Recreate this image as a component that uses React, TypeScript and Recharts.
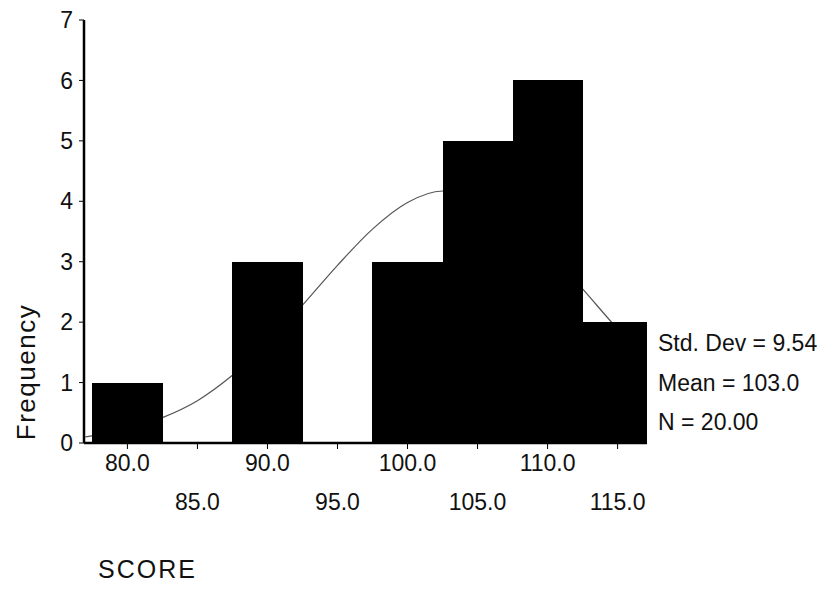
import React from 'react';
import { ComposedChart, Bar, Line, XAxis, YAxis } from 'recharts';

// histogram bins (midpoints) and counts
const binMids = [80, 85, 90, 95, 100, 105, 110, 115];
const binCounts = [1, 0, 3, 0, 3, 5, 6, 2];
const binWidth = 5;

// normal curve overlay
const curveX = [77, 80, 82.5, 85, 87.5, 90, 92.5, 95, 97.5, 100, 102.5, 105, 107.5, 110, 112.5, 115, 117];
const curveY = [0.1, 0.23, 0.42, 0.7, 1.12, 1.65, 2.28, 2.94, 3.54, 3.98, 4.17, 4.09, 3.74, 3.19, 2.55, 1.89, 1.42];

const xTicks = [80, 85, 90, 95, 100, 105, 110, 115];
const xTickLabels = ['80.0', '85.0', '90.0', '95.0', '100.0', '105.0', '110.0', '115.0'];
const yTicks = [0, 1, 2, 3, 4, 5, 6, 7];

const stats = [
    { name: 'Std. Dev', value: '9.54' },
    { name: 'Mean', value: '103.0' },
    { name: 'N', value: '20.00' },
];

const W = 826;
const H = 589;
const margin = { top: 20, right: 179, bottom: 0, left: 0 };
const yAxisWidth = 84;
const xAxisHeight = 146;
const xDomain: [number, number] = [76.9, 117.1];
const font = '"Liberation Sans", Arial, sans-serif';

const histData = binMids.map((x, i) => ({ x, count: binCounts[i] }));
const curveData = curveX.map((x, i) => ({ x, density: curveY[i] }));

function XTick(props: any) {
    const { x, y, payload, index } = props;
    const i = xTicks.indexOf(payload.value);
    return (
        <text x={x} y={y} dy={index % 2 ? 61 : 22} textAnchor="middle"
            fontFamily={font} fontSize={23} fill="#111">
            {xTickLabels[i] ?? payload.value}
        </text>
    );
}

export default function App() {
    const plotW = W - margin.right - yAxisWidth;
    const barSize = (binWidth * plotW) / (xDomain[1] - xDomain[0]);

    // bars fill the whole bin, centred on the bin midpoint from the scale
    const BinRect = (p: any) => p.height > 0 ? (
        <rect x={p.x + p.width / 2 - barSize / 2} y={p.y} width={barSize + 0.6} height={p.height}
            fill="#000" shapeRendering="crispEdges" />
    ) : null;

    return (
        <div style={{ position: 'absolute', left: 0, top: 0, width: W, height: H, background: '#fff' }}>
            <ComposedChart width={W} height={H} data={histData} margin={margin} barCategoryGap={0}>
                <XAxis
                    xAxisId="main"
                    dataKey="x"
                    type="number"
                    domain={xDomain}
                    ticks={xTicks}
                    interval={0}
                    height={xAxisHeight}
                    tickSize={6}
                    tickMargin={0}
                    tick={<XTick />}
                    axisLine={{ stroke: '#000', strokeWidth: 2.5 }}
                    tickLine={{ stroke: '#000', strokeWidth: 1 }}
                    allowDataOverflow
                    label={{
                        content: () => (
                            <text x={98} y={578} fontFamily={font} fontSize={25} letterSpacing={2} fill="#111">SCORE</text>
                        ),
                    }}
                />
                <XAxis xAxisId="top" orientation="top" type="number" domain={xDomain} height={0}
                    tick={false} tickLine={false} axisLine={{ stroke: '#000', strokeWidth: 2.5 }} />
                <YAxis
                    yAxisId="main"
                    type="number"
                    domain={[0, 7]}
                    ticks={yTicks}
                    interval={0}
                    width={yAxisWidth}
                    tickSize={5}
                    tickMargin={6}
                    tick={{ fontFamily: font, fontSize: 23, fill: '#111' }}
                    axisLine={{ stroke: '#000', strokeWidth: 2.5 }}
                    tickLine={{ stroke: '#000', strokeWidth: 1 }}
                    label={{
                        content: () => (
                            <text x={0} y={0} transform="translate(35 372) rotate(-90)" textAnchor="middle"
                                fontFamily={font} fontSize={26} letterSpacing={1.5} fill="#111">Frequency</text>
                        ),
                    }}
                />
                <YAxis yAxisId="right" orientation="right" type="number" domain={[0, 7]} width={0}
                    tick={false} tickLine={false} axisLine={{ stroke: '#000', strokeWidth: 2.5 }} />
                <Line
                    xAxisId="main"
                    yAxisId="main"
                    data={curveData}
                    dataKey="density"
                    type="monotone"
                    stroke="#555"
                    strokeWidth={1.2}
                    dot={false}
                    activeDot={false}
                    isAnimationActive={false}
                    zIndex={200}
                />
                <Bar
                    xAxisId="main"
                    yAxisId="main"
                    dataKey="count"
                    fill="#000"
                    shape={BinRect}
                    isAnimationActive={false}
                />
            </ComposedChart>
            <div style={{ position: 'absolute', left: 658, top: 324, fontFamily: font, fontSize: 23, color: '#111', lineHeight: '39.5px' }}>
                {stats.map((s) => (
                    <div key={s.name} style={{ whiteSpace: 'nowrap' }}>{s.name} = {s.value}</div>
                ))}
            </div>
        </div>
    );
}
